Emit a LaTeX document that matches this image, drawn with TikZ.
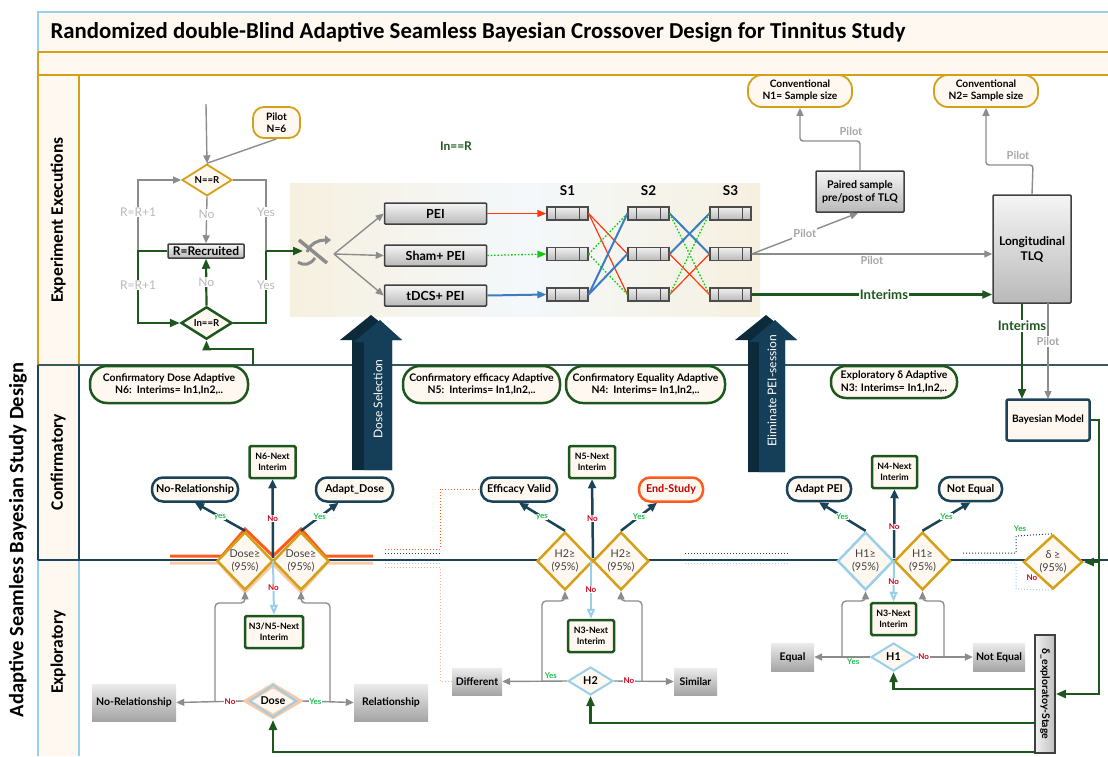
\documentclass[tikz,border=0pt]{standalone}
\usepackage{fontspec}
\usepackage{graphicx}
\setmainfont{Lato}
\newfontfamily\carl{Carlito}
\usetikzlibrary{arrows.meta,shapes.geometric,calc}

\definecolor{cream}{HTML}{FFF8F0}
\definecolor{gold}{HTML}{D4A017}
\definecolor{navy}{HTML}{1A4258}
\definecolor{navyd}{HTML}{0C2A3A}
\definecolor{navyl}{HTML}{153F58}
\definecolor{dgreen}{HTML}{1E571E}
\definecolor{lblue}{HTML}{9ACFEA}
\definecolor{orng}{HTML}{FF5B1F}
\definecolor{peach}{HTML}{F9C9A8}
\definecolor{agray}{HTML}{8C8C8C}
\definecolor{lgray}{HTML}{B8B8B8}
\definecolor{plgray}{HTML}{A6A6A6}
\definecolor{redt}{HTML}{D0021B}
\definecolor{greent}{HTML}{1DBF4A}
\definecolor{pred}{HTML}{FF3A10}
\definecolor{pgreen}{HTML}{10CC10}
\definecolor{pblue}{HTML}{3A7DC0}
\definecolor{slate}{HTML}{3A5A5A}
\definecolor{bgc}{HTML}{F6F0DF}
\definecolor{bgm}{HTML}{F4F8FB}
\definecolor{gtop}{HTML}{ECECEC}
\definecolor{gbot}{HTML}{A4A4A4}
\definecolor{endred}{HTML}{C00000}

\tikzset{
  garr/.style={draw=agray, line width=1.4pt, -{Triangle[length=8pt,width=7pt]}},
  gline/.style={draw=agray, line width=1.4pt},
  grnarr/.style={draw=dgreen, line width=2.2pt, -{Triangle[length=10pt,width=8pt]}},
  grnline/.style={draw=dgreen, line width=2.2pt},
  nvarr/.style={draw=navy, line width=2.5pt, -{Triangle[length=9pt,width=8pt]}},
  lbarr/.style={draw=lblue, line width=2pt, -{Triangle[open,length=10pt,width=8pt,fill=white]}},
  redl/.style={draw=pred, line width=1.2pt},
  bluel/.style={draw=pblue, line width=2pt},
  grnd/.style={draw=pgreen, line width=1.3pt, dash pattern=on 1.6pt off 1.8pt},
  lbl/.style={font=\fontsize{12}{14}\selectfont, text=lgray, fill=white, inner sep=1pt},
  plbl/.style={font=\bfseries\fontsize{11}{13}\selectfont, text=plgray, fill=white, inner sep=1pt},
  ilbl/.style={font=\bfseries\fontsize{13.2}{15}\selectfont, text=dgreen, fill=white, inner sep=1pt},
  ylab/.style={font=\bfseries\fontsize{8}{9}\selectfont, text=greent, fill=white, inner sep=0.5pt},
  nlab/.style={font=\bfseries\fontsize{8}{9}\selectfont, text=redt, fill=white, inner sep=0.5pt},
  lane/.style={font=\carl\bfseries\fontsize{17.5}{20}\selectfont, rotate=90},
  pilotn/.style={rectangle, rounded corners=11pt, draw=gold, line width=1.8pt, fill=cream, align=center,
    font=\bfseries\fontsize{10.2}{12}\selectfont, inner sep=0.5pt},
  convn/.style={rectangle, rounded corners=14pt, draw=gold, line width=1.8pt, fill=cream, align=center,
    minimum width=104, minimum height=32, font=\bfseries\fontsize{10.2}{12}\selectfont, inner sep=0.5pt},
  gbox/.style={rectangle, rounded corners=1pt, draw=black!75, line width=1.5pt, top color=gray!8,
    bottom color=gray!55, align=center, inner sep=0.5pt},
  gflat/.style={rectangle, top color=gtop, bottom color=gbot, align=center, inner sep=2pt,
    font=\bfseries\fontsize{10.5}{12}\selectfont},
  sbox/.style={rectangle, draw=black!70, line width=1.2pt, top color=gray!12, bottom color=gray!55,
    minimum width=41, minimum height=13, inner sep=0pt,
    path picture={\draw[black!70, line width=1pt]
      ([xshift=8pt]path picture bounding box.north west) -- ([xshift=8pt]path picture bounding box.south west)
      ([xshift=-9pt]path picture bounding box.north east) -- ([xshift=-9pt]path picture bounding box.south east);}},
  confn/.style={rectangle, rounded corners=17pt, draw=dgreen, line width=2.5pt, fill=cream, align=center,
    minimum height=37, font=\bfseries\fontsize{10.4}{12.5}\selectfont, inner xsep=1pt},
  outn/.style={rectangle, rounded corners=11pt, draw=navy, line width=2.5pt, fill=cream,
    minimum height=24, font=\bfseries\fontsize{10.8}{12}\selectfont, inner xsep=4pt},
  nextn/.style={rectangle, rounded corners=1.5pt, draw=dgreen, line width=2.5pt, fill=cream, align=center,
    minimum width=46, minimum height=32, font=\bfseries\fontsize{8.8}{11.5}\selectfont, inner sep=0.5pt},
  decg/.style={diamond, draw=gold, line width=2.5pt, fill=cream, inner sep=0pt, align=center,
    minimum width=56, minimum height=58, font=\fontsize{10.8}{13}\selectfont, text=black!75},
  decb/.style={decg, draw=lblue},
  smalld/.style={diamond, draw=lblue, line width=2pt, fill=cream, inner sep=0pt,
    minimum width=45, minimum height=28, font=\bfseries\fontsize{10.8}{12}\selectfont},
  bmn/.style={rectangle, draw=navy, line width=2.5pt, fill=cream, rounded corners=2pt, minimum width=83,
    minimum height=41, font=\bfseries\fontsize{10.2}{12}\selectfont},
  peib/.style={gbox, minimum width=102, minimum height=21, font=\bfseries\fontsize{12.5}{14}\selectfont},
}

\begin{document}
\begin{tikzpicture}[x=1pt,y=-1pt]
\useasboundingbox (0,0) rectangle (1108,756);

% ---------- pool frame ----------
\fill[cream] (38,12) rectangle (1108,75);
\fill[cream] (38,75) rectangle (79,756);
\draw[lblue, line width=1.2pt] (1108,12) -- (38,12) -- (38,52);
\draw[gold, line width=1.2pt] (38,52) -- (1108,52) (38,75) -- (1108,75) (38,52) -- (38,75);
\draw[gold, line width=1.2pt] (38,75) -- (38,365) (79,75) -- (79,365);
\draw[navy, line width=1.2pt] (38,365) -- (38,560) (79,365) -- (79,560);
\draw[lblue, line width=1.2pt] (38,560) -- (38,756) (79,560) -- (79,756);
\draw[slate, line width=1.2pt] (38,365) -- (1108,365);
\draw[navy, line width=1.2pt] (38,560) -- (1108,560);

\node[anchor=west, font=\carl\bfseries\fontsize{22.8}{26}\selectfont] (title) at (47,32)
  {Randomized double-Blind Adaptive Seamless Bayesian Crossover Design for Tinnitus Study};
\node[rotate=90, font=\carl\bfseries\fontsize{20.5}{24}\selectfont] (pool) at (18,540)
  {Adaptive Seamless Bayesian Study Design};
\node[lane] (lexp) at (58,220) {Experiment Executions};
\node[lane] (lconf) at (58,462) {Confirmatory};
\node[lane] (lexpl) at (58,652) {Exploratory};

% ---------- experiment executions ----------
\shade[left color=bgc, right color=bgc, middle color=bgm] (290,183) rectangle (760,316);

\node[pilotn, minimum width=47, minimum height=31] (pilot) at (276.5,122.5) {Pilot\\N=6};
\node[diamond, draw=gold, line width=1.8pt, fill=cream, minimum width=50, minimum height=24, inner sep=0pt,
  font=\bfseries\fontsize{9.6}{10}\selectfont] (nr) at (207,180) {N==R};
\node[gbox, minimum width=76, minimum height=14, font=\bfseries\fontsize{12}{13}\selectfont] (rec) at (206,251) {R=Recruited};
\node[diamond, draw=dgreen, line width=2.5pt, fill=cream, minimum width=51, minimum height=26, inner sep=0pt,
  font=\bfseries\fontsize{9.6}{10}\selectfont] (inr) at (206.5,323) {In==R};

\coordinate (top) at (206,104);
\coordinate (rl) at (138,251);
\coordinate (rr) at (266,251);
\coordinate (shin) at (303,251);
\coordinate (cup) at (253,365);
\draw[garr] (top) -- (nr.north);
\draw[gline] (pilot.south) -- (nr.north);
\draw[garr] (rl) |- (nr.west);
\draw[grnarr] (rec.west) -- (rl) |- (inr.west);
\draw[gline] (nr.east) -| (rr);
\draw[grnline] (inr.east) -| (rr);
\draw[grnarr] (rr) -- (shin);
\draw[garr] (nr.south) -- node[lbl, pos=0.38]{No} (rec.north);
\draw[grnarr] (inr.north) -- node[lbl]{No} (rec.south);
\draw[grnarr] (cup) -- (253,349) -| (inr.south);
\node[lbl] at (138,212) {R=R+1};
\node[lbl] at (138,285) {R=R+1};
\node[lbl] at (266,212) {Yes};
\node[lbl] at (266,285) {Yes};

% shuffle symbol
\draw[agray, line width=3.5pt] (299,240) -- (327,263);
\draw[agray, line width=3pt, -{Triangle[length=6pt,width=9pt]}] (307,252) .. controls (311,243) and (318,240) .. (331,240);
\draw[agray, line width=3pt] (298,262) .. controls (304,266) and (310,265) .. (315,258);
\coordinate (shuf) at (334,254);

\node[peib] (pei) at (435.5,213.5) {PEI};
\node[peib] (sham) at (435.5,255.5) {Sham+ PEI};
\node[peib] (tdcs) at (435.5,295.5) {tDCS+ PEI};
\draw[garr] (shuf) -- (pei.west);
\draw[garr] (shuf) -- (sham.west);
\draw[garr] (shuf) -- (tdcs.west);

\foreach \c/\x/\t in {1/567.5/S1, 2/648.5/S2, 3/730.5/S3}{
  \node[font=\bfseries\fontsize{13.5}{15}\selectfont] (lab\c) at (\x,191) {\t};
  \node[sbox] (s\c1) at (\x,213.5) {};
  \node[sbox] (s\c2) at (\x,254) {};
  \node[sbox] (s\c3) at (\x,294.5) {};
}
\draw[redl, -{Triangle[length=9pt,width=7pt]}] (pei.east) -- (s11.west);
\draw[grnd, -{Triangle[length=9pt,width=7pt]}] (sham.east) -- (s12.west);
\draw[bluel, -{Triangle[length=9pt,width=7pt]}] (tdcs.east) -- (s13.west);

\draw[redl] (s11.east) -- (s22.west);
\draw[redl] (s11.east) -- (s23.west);
\draw[grnd] (s12.east) -- (s21.west);
\draw[grnd] (s12.east) -- (s23.west);
\draw[bluel] (s13.east) -- (s21.west);
\draw[bluel] (s13.east) -- (s22.west);
\draw[bluel] (s21.east) -- (s32.west);
\draw[grnd] (s21.east) -- (s33.west);
\draw[bluel] (s22.east) -- (s31.west);
\draw[redl] (s22.east) -- (s33.west);
\draw[redl] (s23.east) -- (s32.west);
\draw[grnd] (s23.east) -- (s31.west);

\node[font=\bfseries\fontsize{12}{14}\selectfont, text=dgreen] (inrtxt) at (456,146) {In==R};

\node[convn] (conv1) at (800,91) {Conventional\\N1= Sample size};
\node[convn] (conv2) at (986,91) {Conventional\\N2= Sample size};
\node[gbox, minimum width=88, minimum height=41, font=\bfseries\fontsize{10.6}{13}\selectfont] (paired) at (860,191.5) {Paired sample\\pre/post of TLQ};
\node[gbox, minimum width=78, minimum height=108, font=\bfseries\fontsize{12}{15}\selectfont] (tlq) at (1032,249) {Longitudinal\\TLQ};

\draw[garr, rounded corners=3pt] (paired.north) -- (860,141) -| (conv1.south);
\draw[garr, rounded corners=3pt] (tlq.north) -- (1033,165) -| (conv2.south);
\node[plbl, fill=none] at (851,131) {Pilot};
\node[plbl, fill=none] at (1018,155) {Pilot};
\draw[garr] (s32.east) -- node[plbl, below=1pt, fill=none]{Pilot} (tlq.west |- s32.east);
\draw[garr] (s32.east) -- node[plbl, pos=0.5]{Pilot} (858,213);
\draw[grnarr] (s33.east) -- node[ilbl, pos=0.55]{Interims} (tlq.west |- s33.east);

% ---------- confirmatory ----------
\node[confn, minimum width=158] (cdose) at (169,384.5) {Confirmatory Dose Adaptive\\N6:\ \ Interims= In1,In2,..};
\node[confn, minimum width=157] (ceff) at (481.5,384.5) {Confirmatory efficacy Adaptive\\N5:\ \ Interims= In1,In2,..};
\node[confn, minimum width=159] (cequ) at (645.5,384.5) {Confirmatory Equality Adaptive\\N4:\ \ Interims= In1,In2,..};
\node[confn, minimum width=126, minimum height=32, rounded corners=15pt] (cexp) at (894,382) {Exploratory δ Adaptive\\N3: Interims= In1,In2,..};

% block arrows
\fill[navyd] (352,470) -- (352,340) -- (340,340) -- (371,315) -- (402,340) -- (392,340) -- (392,470) -- cycle;
\fill[navyl] (364,470) -- (364,342) -- (354,342) -- (380,320) -- (402,340) -- (392,340) -- (392,470) -- cycle;
\node[rotate=90, text=white, font=\fontsize{12}{14}\selectfont] (dsel) at (378,399) {Dose Selection};
\fill[navyd] (748,472) -- (748,340) -- (735,340) -- (766,315) -- (797,340) -- (785,340) -- (785,472) -- cycle;
\fill[navyl] (759,472) -- (759,342) -- (749,342) -- (775,320) -- (797,340) -- (785,340) -- (785,472) -- cycle;
\node[rotate=90, text=white, font=\fontsize{12}{14}\selectfont] (elim) at (772,391) {Eliminate PEI-session};

\node[bmn] (bm) at (1048,420) {Bayesian Model};
\coordinate (t1) at (1022,303);
\coordinate (b1) at (1022,399);
\coordinate (t2) at (1048,303);
\coordinate (b2) at (1048,399);
\draw[grnarr] (t1) -- node[ilbl, pos=0.24]{Interims} (b1);
\draw[garr] (t2) -- node[plbl, pos=0.4]{Pilot} (b2);

% dotted links between the decision groups
\draw[orng, line width=1pt, dotted] (385,549) -- (440,549) -- (440,489) -- (481,489);
\draw[navy, line width=1pt, dotted] (385,553) -- (442,553);
\draw[lblue, line width=1pt, dotted] (385,563) -- (440,563);
\draw[peach!80!orng, line width=1pt, dotted] (385,567) -- (440,567) -- (440,681) -- (452,681);
\draw[navy, line width=1pt, dotted] (685,553) -- (790,553);
\draw[lblue, line width=1pt, dotted] (685,563) -- (790,563);

% dose decision group
\draw[peach, line width=3pt] (170,563) -- (219,563) -- (245,592) -- (273,564) -- (301,592) -- (327,563) -- (373,563);
\draw[orng, line width=3pt] (170,556) -- (222,556) -- (245,529) -- (273,556) -- (301,529) -- (325,556) -- (373,556);
\node[decg] (dl) at (245,561) {Dose≥\\(95\%)};
\node[decg] (dr) at (301,561) {Dose≥\\(95\%)};
\node[outn, minimum width=86] (norel) at (195,489.5) {No-Relationship};
\node[nextn] (n6) at (272.5,462) {N6-Next\\Interim};
\node[outn, minimum width=77] (adose) at (354.5,489.5) {Adapt\_Dose};
\coordinate (dj) at (273,558);
\draw[nvarr] (dl.north) -- node[ylab]{yes} (norel.south);
\draw[nvarr] (dj) -- node[nlab, pos=0.5]{No} (n6.south);
\draw[nvarr] (dr.north) -- node[ylab]{Yes} ($(adose.south)+(-16,0)$);

% efficacy decision group
\node[decg] (h2l) at (565,561) {H2≥\\(95\%)};
\node[decg] (h2r) at (621,561) {H2≥\\(95\%)};
\node[outn, minimum width=76] (effv) at (519,489.5) {Efficacy Valid};
\node[nextn] (n5) at (592,462) {N5-Next\\Interim};
\node[outn, minimum width=64, draw=orng, text=endred] (endst) at (671,489.5) {End-Study};
\coordinate (hj) at (593,558);
\draw[nvarr] (h2l.north) -- node[ylab]{yes} (effv.south);
\draw[nvarr] (hj) -- node[nlab, pos=0.5]{No} (n5.south);
\draw[nvarr] (h2r.north) -- node[ylab]{Yes} ($(endst.south)+(-14,0)$);

% equality decision group
\node[decb] (h1l) at (865.5,561) {H1≥\\(95\%)};
\node[decg] (h1r) at (922.5,561) {H1≥\\(95\%)};
\node[outn, minimum width=64] (apei) at (819,489) {Adapt PEI};
\node[nextn, minimum width=45] (n4) at (894.5,472) {N4-Next\\Interim};
\node[outn, minimum width=63] (neq) at (970.5,489) {Not Equal};
\coordinate (ej) at (894,558);
\draw[nvarr] (h1l.north) -- node[ylab]{Yes} (apei.south);
\draw[nvarr] (ej) -- node[nlab, pos=0.45]{No} (n4.south);
\draw[nvarr] (h1r.north) -- node[ylab]{Yes} (neq.south);

% exploratory delta decision
\node[decg, minimum width=59, minimum height=54] (delta) at (1053,562) {δ ≥\\(95\%)};
\draw[navy, line width=1pt, dotted] (963,553) -- (1016,553) -- (1016,536) -- (delta.north);
\draw[lblue, line width=1pt, dotted] (963,563) -- (1016,563) -- (1016,589) -- (delta.south);
\node[ylab, fill=none] at (1020,529) {Yes};
\node[nlab, fill=none] at (1032,578) {No};

% ---------- exploratory ----------
\node[nextn, minimum width=58] (n35) at (274,632) {N3/N5-Next\\Interim};
\node[nextn] (n3a) at (591,636) {N3-Next\\Interim};
\node[nextn, minimum width=45] (n3b) at (893.5,619) {N3-Next\\Interim};
\coordinate (dj2) at (273,561);
\coordinate (hj2) at (591,561);
\coordinate (ej2) at (894,561);
\draw[lbarr] (dj2) -- node[nlab, pos=0.5]{No} (n35.north);
\draw[lbarr] (hj2) -- node[nlab, pos=0.5]{No} (n3a.north);
\draw[lbarr] (ej2) -- node[nlab, pos=0.5]{No} (n3b.north);

\node[diamond, draw=peach, line width=5pt, fill=cream, minimum width=54, minimum height=33, inner sep=0pt] (dose) at (273,701) {};
\node[diamond, draw=lblue, line width=1.8pt, minimum width=47, minimum height=27, inner sep=0pt,
  font=\bfseries\fontsize{10.8}{12}\selectfont] (dosein) at (273,701) {Dose};
\node[smalld] (h2) at (590.5,681) {H2};
\node[smalld] (h1) at (893.5,657) {H1};

\node[gflat, minimum width=84, minimum height=37] (norel2) at (134,702.5) {No-Relationship};
\node[gflat, minimum width=74, minimum height=37] (rel) at (391,702.5) {Relationship};
\node[gflat, minimum width=50, minimum height=27] (diff) at (477,681.5) {Different};
\node[gflat, minimum width=43, minimum height=27] (sim) at (695.5,681.5) {Similar};
\node[gflat, minimum width=43, minimum height=28] (equal) at (792.5,657) {Equal};
\node[gflat, minimum width=52, minimum height=28] (neq2) at (999,657) {Not Equal};

\coordinate (dbl) at (215,701);
\coordinate (dbr) at (330,701);
\draw[garr] (dose.west) -- node[nlab, pos=0.2]{No} (norel2.east);
\draw[garr] (dose.east) -- node[ylab, pos=0.25]{Yes} (rel.west);
\draw[garr, rounded corners=4pt] (dbl) |- (245,603) -- (dl.south);
\draw[garr, rounded corners=4pt] (dbr) |- (301,603) -- (dr.south);

\coordinate (hbl) at (542,681);
\coordinate (hbr) at (642,681);
\draw[garr] (h2.west) -- node[ylab, pos=0.25, above=1pt, fill=none]{Yes} (diff.east);
\draw[garr] (h2.east) -- node[nlab, pos=0.25]{No} (sim.west);
\draw[garr, rounded corners=4pt] (hbl) |- (565,601) -- (h2l.south);
\draw[garr, rounded corners=4pt] (hbr) |- (621,601) -- (h2r.south);

\coordinate (ebl) at (842,657);
\coordinate (ebr) at (944,657);
\draw[garr] (h1.west) -- node[ylab, pos=0.3, below=1pt, fill=none]{Yes} (equal.east);
\draw[garr] (h1.east) -- node[nlab, pos=0.12]{No} (neq2.west);
\draw[garr, rounded corners=4pt] (ebl) |- (865.5,601) -- (h1l.south);
\draw[garr, rounded corners=4pt] (ebr) |- (922.5,601) -- (h1r.south);

% exploratory stage box and its feedback lines
\node[rectangle, draw=black!75, line width=1.8pt, left color=gray!12, right color=gray!50, minimum width=20,
  minimum height=118, inner sep=0pt, font=\bfseries\fontsize{10.5}{12}\selectfont] (dex) at (1045,694)
  {\rotatebox{-90}{δ\_exploratoy-Stage}};
\coordinate (e1) at (1035,689);
\coordinate (e2) at (1035,723);
\coordinate (e3) at (1035,752);
\draw[grnarr] (e1) -| (h1.south);
\draw[grnarr] (e2) -| (h2.south);
\draw[grnarr] (e3) -| (dose.south);
\coordinate (bj) at (1099,562);
\draw[grnarr] (bm.east) -| (1099,694) -- (dex.east);
\draw[grnarr] (bj) -- (delta.east);
\end{tikzpicture}
\end{document}
